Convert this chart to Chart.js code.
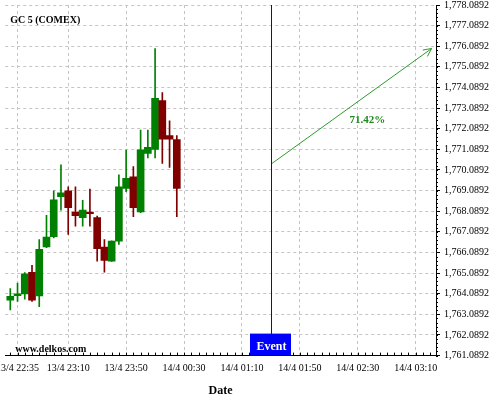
<!DOCTYPE html>
<html>
<head>
<meta charset="utf-8">
<script src="https://cdn.jsdelivr.net/npm/chart.js@4.4.0/dist/chart.umd.min.js"></script>
<style>
  html, body { margin: 0; padding: 0; background: #fff; }
  #wrap { position: relative; width: 500px; height: 400px; overflow: hidden; }
  #wrap canvas { position: absolute; left: -11px; top: -5px; }
</style>
</head>
<body>
<div id="wrap"><canvas id="chart" width="511" height="405"></canvas></div>
<script>
// 5-minute candles, 13/4 22:30 -> 14/4 00:25
var times = ["22:30", "22:35", "22:40", "22:45", "22:50", "22:55", "23:00", "23:05",
             "23:10", "23:15", "23:20", "23:25", "23:30", "23:35", "23:40", "23:45",
             "23:50", "23:55", "00:00", "00:05", "00:10", "00:15", "00:20", "00:25"];
var opens  = [1763.78, 1764.00, 1764.08, 1765.13, 1763.98, 1766.36, 1766.85, 1768.80,
              1769.08, 1768.05, 1767.78, 1768.05, 1767.78, 1766.35, 1765.67, 1766.64,
              1769.19, 1769.76, 1768.05, 1770.89, 1771.09, 1773.46, 1771.76, 1771.56];
var highs  = [1764.34, 1764.61, 1765.12, 1765.47, 1766.72, 1767.89, 1769.08, 1770.34,
              1769.27, 1769.27, 1768.62, 1769.16, 1767.86, 1766.72, 1766.66, 1769.86,
              1771.06, 1770.25, 1772.03, 1772.03, 1775.98, 1773.84, 1772.47, 1771.76];
var lows   = [1763.30, 1763.72, 1763.83, 1763.72, 1763.46, 1766.32, 1766.80, 1768.14,
              1766.97, 1767.37, 1767.37, 1767.37, 1765.67, 1765.13, 1765.65, 1766.48,
              1769.04, 1767.83, 1768.02, 1770.67, 1770.67, 1770.41, 1770.21, 1767.83];
var closes = [1763.96, 1764.08, 1765.05, 1763.78, 1766.24, 1766.84, 1768.64, 1768.98,
              1768.26, 1767.87, 1768.15, 1767.97, 1766.27, 1765.70, 1766.64, 1769.27,
              1769.68, 1768.26, 1771.07, 1771.19, 1773.56, 1771.58, 1771.58, 1769.19];

var xTickTimes  = ["22:35", "23:10", "23:50", "00:30", "01:10", "01:50", "02:30", "03:10"];
var xTickLabels = ["13/4 22:35", "13/4 23:10", "13/4 23:50", "14/4 00:30",
                   "14/4 01:10", "14/4 01:50", "14/4 02:30", "14/4 03:10"];
var yTicks = [1761.0892, 1762.0892, 1763.0892, 1764.0892, 1765.0892, 1766.0892,
              1767.0892, 1768.0892, 1769.0892, 1770.0892, 1771.0892, 1772.0892,
              1773.0892, 1774.0892, 1775.0892, 1776.0892, 1777.0892, 1778.0892];

var eventTime = "01:30";
var arrowTimes = ["01:30", "03:21"];
var arrowValues = [1770.37, 1775.98];
var arrowLabel = "71.42%";

var serif = '"Liberation Serif", "DejaVu Serif", serif';

function toMin(t) {
    var p = t.split(":");
    var m = parseInt(p[0], 10) * 60 + parseInt(p[1], 10) - (22 * 60 + 30);
    if (m < -60) m += 1440;
    return m;
}

var up = closes.map(function (c, i) { return c >= opens[i]; });
var colors = up.map(function (u) { return u ? "#008000" : "#800000"; });

var wickData = times.map(function (t, i) { return { x: toMin(t), y: [lows[i], highs[i]] }; });
var bodyData = times.map(function (t, i) { return { x: toMin(t), y: [opens[i], closes[i]] }; });
var arrowData = arrowTimes.map(function (t, i) { return { x: toMin(t), y: arrowValues[i] }; });

var overlay = {
    id: "overlay",
    afterDatasetsDraw: function (chart) {
        var ctx = chart.ctx, xs = chart.scales.x, ys = chart.scales.y, a = chart.chartArea;
        ctx.save();

        // minor ticks
        ctx.strokeStyle = "#000";
        ctx.lineWidth = 1;
        ctx.beginPath();
        for (var v = yTicks[0]; v < yTicks[yTicks.length - 1]; v += 0.2) {
            var py = Math.round(ys.getPixelForValue(v)) + 0.5;
            ctx.moveTo(a.right, py);
            ctx.lineTo(a.right + 2, py);
        }
        for (var m = 0; m <= xs.max; m += 5) {
            var px = Math.round(xs.getPixelForValue(m)) + 0.5;
            ctx.moveTo(px, a.bottom);
            ctx.lineTo(px, a.bottom - 3);
        }
        ctx.stroke();

        // event marker
        var ex = Math.round(xs.getPixelForValue(toMin(eventTime))) + 0.5;
        ctx.strokeStyle = "#0000ff";
        ctx.beginPath();
        ctx.moveTo(ex, a.top);
        ctx.lineTo(ex, a.bottom - 21);
        ctx.stroke();
        ctx.fillStyle = "#0000ff";
        ctx.fillRect(ex - 21.5, a.bottom - 22, 41, 22);
        ctx.fillStyle = "#ffffff";
        ctx.font = "bold 12px " + serif;
        ctx.textAlign = "center";
        ctx.textBaseline = "middle";
        ctx.fillText("Event", ex, a.bottom - 9);

        // arrow head + label
        var x0 = xs.getPixelForValue(arrowData[0].x), y0 = ys.getPixelForValue(arrowData[0].y);
        var x1 = xs.getPixelForValue(arrowData[1].x), y1 = ys.getPixelForValue(arrowData[1].y);
        var ang = Math.atan2(y1 - y0, x1 - x0);
        ctx.strokeStyle = "#2e9b2e";
        ctx.beginPath();
        ctx.moveTo(x1 - 9 * Math.cos(ang - 0.45), y1 - 9 * Math.sin(ang - 0.45));
        ctx.lineTo(x1, y1);
        ctx.lineTo(x1 - 9 * Math.cos(ang + 0.45), y1 - 9 * Math.sin(ang + 0.45));
        ctx.stroke();
        ctx.fillStyle = "#1f8a1f";
        ctx.font = "bold 11px " + serif;
        ctx.fillText(arrowLabel, (x0 + x1) / 2 + 16, (y0 + y1) / 2 + 14);

        // title + watermark
        ctx.fillStyle = "#000";
        ctx.textAlign = "left";
        ctx.font = "bold 10px " + serif;
        ctx.fillText("GC 5 (COMEX)", a.left + 5, a.top + 15);
        ctx.fillText("www.delkos.com", a.left + 10, a.bottom - 6);
        ctx.restore();
    }
};

new Chart(document.getElementById("chart"), {
    type: "bar",
    data: {
        datasets: [{
            data: wickData,
            backgroundColor: colors,
            barThickness: 1,
            grouped: false,
            borderWidth: 0
        }, {
            data: bodyData,
            backgroundColor: colors,
            barThickness: 7,
            grouped: false,
            borderWidth: 0,
            minBarLength: 1
        }, {
            type: "line",
            data: arrowData,
            borderColor: "#2e9b2e",
            borderWidth: 1,
            pointRadius: 0,
            fill: false
        }]
    },
    options: {
        responsive: false,
        animation: false,
        layout: { padding: { left: 0, right: 7, top: 0, bottom: 2 } },
        plugins: {
            legend: { display: false },
            tooltip: { enabled: false }
        },
        scales: {
            x: {
                type: "linear",
                min: -3.5,
                max: 294,
                offset: false,
                afterBuildTicks: function (scale) {
                    scale.ticks = xTickTimes.map(function (t) { return { value: toMin(t) }; });
                },
                ticks: {
                    autoSkip: false,
                    maxRotation: 0,
                    padding: 7,
                    color: "#000",
                    font: { family: serif, size: 10 },
                    callback: function (v, i) { return xTickLabels[i]; }
                },
                grid: { offset: false, color: "#c4c4c4", drawTicks: false },
                border: { color: "#000", dash: [3, 3] },
                title: {
                    display: true,
                    text: "Date",
                    color: "#000",
                    font: { family: serif, size: 12, weight: "bold" },
                    padding: { top: 2, bottom: 0 }
                }
            },
            y: {
                position: "right",
                min: yTicks[0],
                max: yTicks[yTicks.length - 1],
                afterBuildTicks: function (scale) {
                    scale.ticks = yTicks.map(function (v) { return { value: v }; });
                },
                ticks: {
                    padding: 4,
                    color: "#000",
                    font: { family: serif, size: 10 },
                    callback: function (v) {
                        return v.toLocaleString("en-US", { minimumFractionDigits: 4, maximumFractionDigits: 4 });
                    }
                },
                grid: { color: "#c4c4c4", tickColor: "#000", tickLength: 4, tickBorderDash: [] },
                border: { color: "#000", dash: [3, 3] }
            }
        }
    },
    plugins: [overlay]
});
</script>
</body>
</html>
